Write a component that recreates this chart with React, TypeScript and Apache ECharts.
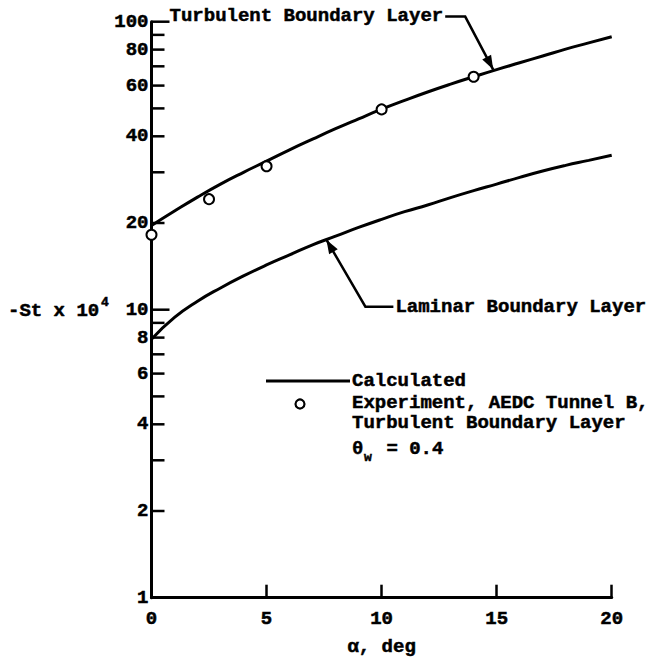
import React, { useEffect, useRef } from "react";
import * as echarts from "echarts";

// ---- data ----
const alphaDeg = [0, 1, 2, 3, 4, 5, 6, 7, 8, 9, 10, 11, 12, 13, 14, 15, 16, 17, 18, 19, 20];
const turbulentSt = [19.6, 22.0, 24.6, 27.3, 30.0, 32.8, 35.9, 39.1, 42.5, 46.0, 49.7, 53.3, 57.0, 60.7, 64.4, 68.2, 72.0, 76.0, 80.3, 84.4, 88.7];
const laminarSt = [7.9, 9.4, 10.7, 11.9, 13.1, 14.3, 15.5, 16.8, 18.0, 19.3, 20.6, 21.9, 23.1, 24.5, 25.9, 27.3, 28.8, 30.3, 31.7, 33.0, 34.4];
const expAlpha = [0, 2.5, 5, 10, 14];
const expSt = [18.2, 24.2, 31.5, 49.6, 64.4];

const yTickValues = [1, 2, 3, 4, 5, 6, 7, 8, 9, 10, 20, 30, 40, 50, 60, 70, 80, 90, 100];
const yLabelValues = [1, 2, 4, 6, 8, 10, 20, 40, 60, 80, 100];

const turbulentArrowAt = [14.85, 68.2];
const laminarArrowAt = [7.6, 17.5];

const FONT_FAMILY = '"Liberation Mono", "DejaVu Sans Mono", monospace';
const FONT = `bold 19px ${FONT_FAMILY}`;
const TEXT_BORDER = 0.5;

function arrowHead(tip: number[], from: number[], L = 14, W = 5) {
  const dx = tip[0] - from[0];
  const dy = tip[1] - from[1];
  const len = Math.sqrt(dx * dx + dy * dy);
  const ux = dx / len, uy = dy / len;
  const px = -uy, py = ux;
  return [
    [tip[0], tip[1]],
    [tip[0] - ux * L + px * W, tip[1] - uy * L + py * W],
    [tip[0] - ux * L - px * W, tip[1] - uy * L - py * W],
  ];
}

export default function App() {
  const ref = useRef<HTMLDivElement>(null);

  useEffect(() => {
    if (!ref.current) return;
    const chart = echarts.init(ref.current, undefined, { renderer: "svg" });

    const labelStyle = {
      color: "#000",
      fontFamily: FONT_FAMILY,
      fontWeight: "bold",
      fontSize: 19,
      textBorderColor: "#000",
      textBorderWidth: TEXT_BORDER,
    };

    const option: any = {
      animation: false,
      backgroundColor: "#fff",
      grid: {
        left: 151.5,
        right: 37.3,
        top: 21.7,
        bottom: 60.3,
        containLabel: false,
        outerBoundsMode: "none",
      },
      xAxis: {
        type: "value",
        min: 0,
        max: 20,
        interval: 5,
        name: "α, deg",
        nameLocation: "middle",
        nameGap: 40,
        nameTextStyle: labelStyle,
        axisLine: { show: true, onZero: false, lineStyle: { color: "#000", width: 3 } },
        axisTick: { show: true, inside: true, length: 13, lineStyle: { color: "#000", width: 2.5 } },
        axisLabel: { ...labelStyle, margin: 12 },
        splitLine: { show: false },
      },
      yAxis: {
        type: "log",
        logBase: 10,
        min: 1,
        max: 100,
        axisLine: { show: true, onZero: false, lineStyle: { color: "#000", width: 3 } },
        axisTick: { show: false },
        axisLabel: { show: false },
        splitLine: { show: false },
        minorTick: { show: false },
      },
      series: [
        {
          name: "yTicks",
          type: "custom",
          coordinateSystem: "cartesian2d",
          clip: false,
          silent: true,
          z: 1,
          data: yTickValues.map((v) => [0, v]),
          encode: { x: 0, y: 1 },
          renderItem: (params: any, api: any) => {
            const v = api.value(1);
            const p = api.coord([0, v]);
            const lg = Math.log10(v);
            const decade = Math.abs(lg - Math.round(lg)) < 1e-9;
            const children: any[] = [];
            if (v > 1) {
              children.push({
                type: "line",
                shape: { x1: p[0], y1: p[1], x2: p[0] + (decade ? 18 : 13), y2: p[1] },
                style: { stroke: "#000", lineWidth: 2.5 },
              });
            }
            if (yLabelValues.indexOf(v) >= 0) {
              children.push({
                type: "text",
                x: p[0] - 3,
                y: p[1],
                style: {
                  text: String(v),
                  align: "right",
                  verticalAlign: "middle",
                  font: FONT,
                  fill: "#000",
                  stroke: "#000",
                  lineWidth: TEXT_BORDER,
                },
              });
            }
            return { type: "group", children };
          },
        },
        {
          name: "Turbulent Boundary Layer (calculated)",
          type: "line",
          smooth: 0.5,
          showSymbol: false,
          z: 2,
          lineStyle: { color: "#000", width: 3 },
          data: alphaDeg.map((a, i) => [a, turbulentSt[i]]),
        },
        {
          name: "Laminar Boundary Layer (calculated)",
          type: "line",
          smooth: 0.5,
          showSymbol: false,
          z: 2,
          lineStyle: { color: "#000", width: 3 },
          data: alphaDeg.map((a, i) => [a, laminarSt[i]]),
        },
        {
          name: "Experiment, AEDC Tunnel B",
          type: "scatter",
          symbol: "circle",
          symbolSize: 10,
          z: 3,
          itemStyle: { color: "#fff", borderColor: "#000", borderWidth: 2, opacity: 1 },
          data: expAlpha.map((a, i) => [a, expSt[i]]),
        },
      ],
    };

    chart.setOption(option);

    const tTip = chart.convertToPixel({ gridIndex: 0 }, turbulentArrowAt) as number[];
    const lTip = chart.convertToPixel({ gridIndex: 0 }, laminarArrowAt) as number[];

    const tCorner = [tTip[0] - 28, tTip[1] - 53];
    const tDashStart = [tCorner[0] - 20, tCorner[1]];
    const lCorner = [lTip[0] + 39, lTip[1] + 67];
    const lDashEnd = [lCorner[0] + 28, lCorner[1]];

    const lineStyle = { stroke: "#000", lineWidth: 2.5, fill: null };
    const textStyle = (text: string, extra: any = {}) => ({
      text,
      font: FONT,
      fill: "#000",
      stroke: "#000",
      lineWidth: TEXT_BORDER,
      verticalAlign: "middle",
      ...extra,
    });

    chart.setOption({
      graphic: [
        // y-axis title
        { type: "text", x: 8, y: 311, style: textStyle("-St x 10", { align: "left" }) },
        { type: "text", x: 101, y: 302, style: textStyle("4", { align: "left", font: `bold 13px ${FONT_FAMILY}` }) },
        // turbulent annotation
        {
          type: "text",
          x: tDashStart[0] - 2,
          y: tDashStart[1] - 1,
          style: textStyle("Turbulent Boundary Layer", { align: "right" }),
        },
        { type: "polyline", shape: { points: [tDashStart, tCorner, tTip] }, style: lineStyle },
        { type: "polygon", shape: { points: arrowHead(tTip, tCorner) }, style: { fill: "#000" } },
        // laminar annotation
        {
          type: "text",
          x: lDashEnd[0] + 2,
          y: lDashEnd[1],
          style: textStyle("Laminar Boundary Layer", { align: "left" }),
        },
        { type: "polyline", shape: { points: [lDashEnd, lCorner, lTip] }, style: lineStyle },
        { type: "polygon", shape: { points: arrowHead(lTip, lCorner) }, style: { fill: "#000" } },
        // legend
        { type: "line", shape: { x1: 266, y1: 381, x2: 350, y2: 381 }, style: { stroke: "#000", lineWidth: 3 } },
        { type: "text", x: 352, y: 381, style: textStyle("Calculated") },
        { type: "circle", shape: { cx: 300, cy: 404, r: 4.5 }, style: { fill: "#fff", stroke: "#000", lineWidth: 2.2 } },
        { type: "text", x: 352, y: 403, style: textStyle("Experiment, AEDC Tunnel B,") },
        { type: "text", x: 352, y: 423, style: textStyle("Turbulent Boundary Layer") },
        { type: "text", x: 352, y: 449, style: textStyle("θ") },
        { type: "text", x: 364, y: 457, style: textStyle("w", { font: `bold 13px ${FONT_FAMILY}` }) },
        { type: "text", x: 375, y: 449, style: textStyle(" = 0.4") },
      ],
    });

    return () => chart.dispose();
  }, []);

  return (
    <div
      ref={ref}
      style={{ position: "fixed", left: 0, top: 0, width: 649, height: 658, background: "#fff" }}
    />
  );
}
